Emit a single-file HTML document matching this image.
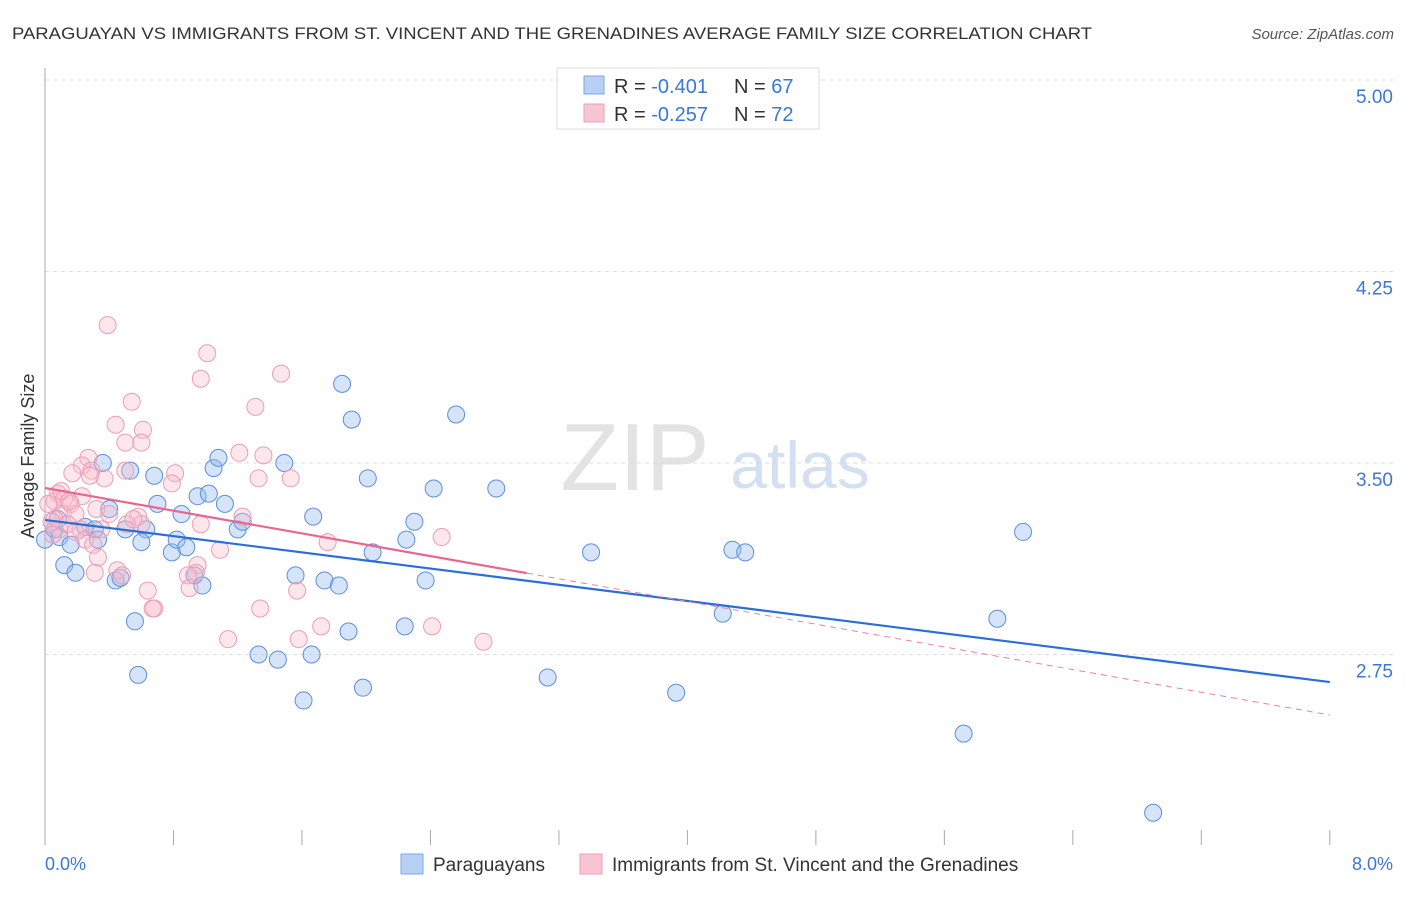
<!DOCTYPE html>
<html><head><meta charset="utf-8"><style>
body{margin:0;background:#fff;font-family:"Liberation Sans",sans-serif}
svg text{font-family:"Liberation Sans",sans-serif}
</style></head><body>
<svg width="1406" height="892" xmlns="http://www.w3.org/2000/svg">
<text x="12" y="39" font-size="17" fill="#333" textLength="1080" lengthAdjust="spacingAndGlyphs">PARAGUAYAN VS IMMIGRANTS FROM ST. VINCENT AND THE GRENADINES AVERAGE FAMILY SIZE CORRELATION CHART</text>
<text x="1394" y="39" font-size="15" font-style="italic" fill="#555" text-anchor="end">Source: ZipAtlas.com</text>
<g id="grid"></g>
<line x1="45" y1="68" x2="45" y2="845" stroke="#aaa"/>
<g><text x="635" y="490" font-size="96" font-family="Liberation Serif" fill="#ddd" text-anchor="middle" opacity="0.8">ZIP</text><text x="800" y="488" font-size="66" fill="#c9d9f0" text-anchor="middle" opacity="0.8">atlas</text></g>
<text transform="translate(34,456) rotate(-90)" font-size="18" fill="#333" text-anchor="middle">Average Family Size</text>
<g id="ticks"></g>
<g id="pts"></g>
<g id="lines"></g>
<g>
<rect x="557" y="68" width="262" height="61" fill="#fff" stroke="#ddd"/>
<rect x="584" y="76" width="20" height="18" fill="#b7d0f3" stroke="#7ea8e6"/>
<rect x="584" y="104" width="20" height="18" fill="#f8c5d3" stroke="#eba0b6"/>
<text x="614" y="93" font-size="20" fill="#333">R = <tspan fill="#3a78d6">-0.401</tspan></text>
<text x="734" y="93" font-size="20" fill="#333">N = <tspan fill="#3a78d6">67</tspan></text>
<text x="614" y="121" font-size="20" fill="#333">R = <tspan fill="#3a78d6">-0.257</tspan></text>
<text x="734" y="121" font-size="20" fill="#333">N = <tspan fill="#3a78d6">72</tspan></text>
</g>
<text x="45" y="870" font-size="18" fill="#3a78d6">0.0%</text>
<text x="1393" y="870" font-size="18" fill="#3a78d6" text-anchor="end">8.0%</text>
<g>
<rect x="401" y="854" width="22" height="20" fill="#b7d0f3" stroke="#7ea8e6"/>
<text x="433" y="871" font-size="19" fill="#333">Paraguayans</text>
<rect x="580" y="854" width="22" height="20" fill="#f8c5d3" stroke="#eba0b6"/>
<text x="612" y="871" font-size="19" fill="#333">Immigrants from St. Vincent and the Grenadines</text>
</g>
</svg>
<script>
const yTicks=[5.00,4.25,3.50,2.75];
const xTickCount=10;
const blueX=[0.0,0.06,0.08,0.09,0.12,0.16,0.19,0.25,0.31,0.33,0.36,0.40,0.44,0.47,0.50,0.53,0.56,0.58,0.63,0.60,0.68,0.70,0.79,0.82,0.85,0.88,0.93,0.95,0.98,1.02,1.05,1.08,1.12,1.20,1.23,1.33,1.45,1.49,1.56,1.61,1.66,1.67,1.74,1.83,1.85,1.89,1.91,1.98,2.01,2.04,2.24,2.25,2.30,2.37,2.42,2.56,2.81,3.13,3.40,3.93,4.22,4.28,4.36,5.72,5.93,6.09,6.90];
const blueY=[3.20,3.24,3.28,3.21,3.10,3.18,3.07,3.25,3.24,3.20,3.50,3.32,3.04,3.05,3.24,3.47,2.88,2.67,3.24,3.19,3.45,3.34,3.15,3.20,3.30,3.17,3.06,3.37,3.02,3.38,3.48,3.52,3.34,3.24,3.27,2.75,2.73,3.50,3.06,2.57,2.75,3.29,3.04,3.02,3.81,2.84,3.67,2.62,3.44,3.15,2.86,3.20,3.27,3.04,3.40,3.69,3.40,2.66,3.15,2.60,2.91,3.16,3.15,2.44,2.89,3.23,2.13];
const pinkX=[0.39,1.01,0.97,1.47,0.54,1.31,0.44,0.61,0.50,0.60,1.21,1.36,0.27,0.23,0.17,0.29,0.37,0.50,0.28,0.81,0.79,1.33,1.53,0.08,0.06,0.12,0.23,0.16,0.11,0.06,0.32,0.19,0.58,0.60,0.51,0.35,0.97,1.23,0.09,0.14,0.04,0.22,1.09,1.76,2.47,0.33,0.95,0.94,0.45,0.48,0.31,0.89,0.90,0.64,1.57,0.68,0.67,1.34,1.72,2.41,1.14,1.58,2.73,0.19,0.25,0.02,0.10,0.15,0.05,0.30,0.40,0.55];
const pinkY=[4.04,3.93,3.83,3.85,3.74,3.72,3.65,3.63,3.58,3.58,3.54,3.53,3.52,3.49,3.46,3.47,3.44,3.47,3.45,3.46,3.42,3.44,3.44,3.38,3.35,3.36,3.37,3.34,3.30,3.28,3.32,3.30,3.29,3.26,3.26,3.24,3.26,3.29,3.24,3.26,3.27,3.24,3.16,3.19,3.21,3.13,3.10,3.07,3.08,3.06,3.07,3.06,3.01,3.00,3.00,2.93,2.93,2.93,2.86,2.86,2.81,2.81,2.80,3.23,3.20,3.34,3.39,3.35,3.22,3.18,3.30,3.28];
const blueFit=[3.277,2.642];
const pinkFit=[3.402,2.513];
const pinkSolidEnd=3.0;
const NS='http://www.w3.org/2000/svg';
const X=v=>45+v*160.6;
const Y=v=>463-(v-3.5)*255.3;
function mk(tag,attrs,parent){const e=document.createElementNS(NS,tag);for(const k in attrs)e.setAttribute(k,attrs[k]);parent.appendChild(e);return e;}
const grid=document.getElementById('grid'),ticks=document.getElementById('ticks');
yTicks.forEach(t=>{
 const l=mk('line',{x1:45,x2:1394,y1:Y(t),y2:Y(t),stroke:'#ddd','stroke-dasharray':'4,4'},grid);
 
 
 const tx=mk('text',{x:1393,y:Y(t)+23,'font-size':19,fill:'#3a78d6','text-anchor':'end'},ticks);
 tx.textContent=t.toFixed(2);
 
 
});
for(let i=0;i<=xTickCount;i++){
 const x=X(i*0.8);
 const l=mk('line',{x1:x,x2:x,y1:830,y2:845,stroke:'#aaa'},ticks);
 
 
}
const pts=document.getElementById('pts');
blueX.forEach((v,i)=>{
 const c=mk('circle',{cx:X(v),cy:Y(blueY[i]),r:8.5,fill:'rgba(150,188,238,0.4)',stroke:'#5b8fdd','stroke-width':1},pts);
 
 
});
pinkX.forEach((v,i)=>{
 const c=mk('circle',{cx:X(v),cy:Y(pinkY[i]),r:8.5,fill:'rgba(248,185,202,0.35)',stroke:'#ec9db4','stroke-width':1},pts);
 
 
});
const lines=document.getElementById('lines');
const bl=mk('line',{x1:X(0),y1:Y(blueFit[0]),x2:X(8),y2:Y(blueFit[1]),stroke:'#2a6fd6','stroke-width':2.2},lines);


const pf=x=>pinkFit[0]+(pinkFit[1]-pinkFit[0])*x/8;
const ps=mk('line',{x1:X(0),y1:Y(pf(0)),x2:X(pinkSolidEnd),y2:Y(pf(pinkSolidEnd)),stroke:'#e8668f','stroke-width':2.2},lines);


const pd=mk('line',{x1:X(pinkSolidEnd),y1:Y(pf(pinkSolidEnd)),x2:X(8),y2:Y(pf(8)),stroke:'#e8829f','stroke-width':1,'stroke-dasharray':'6,5'},lines);


</script>
</body></html>
